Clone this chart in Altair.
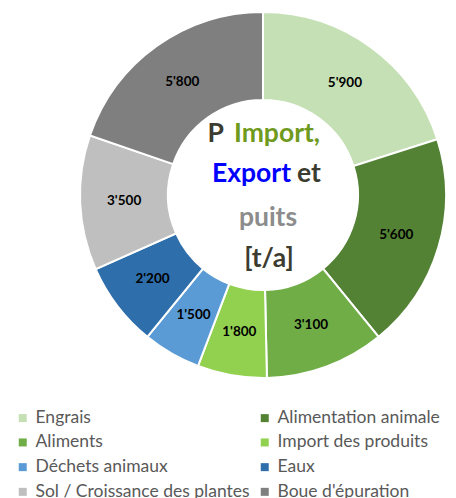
import altair as alt
import pandas as pd

categories = ["Engrais", "Alimentation animale", "Aliments", "Import des produits",
              "Déchets animaux", "Eaux", "Sol / Croissance des plantes", "Boue d'épuration"]
values = [5900, 5600, 3100, 1800, 1500, 2200, 3500, 5800]
colors = ["#C5E0B4", "#548235", "#70AD47", "#92D050", "#5B9BD5", "#2E6EAA", "#BFBFBF", "#7F7F7F"]

df = pd.DataFrame({
    "cat": categories,
    "val": values,
    "idx": list(range(len(categories))),
    "label": [f"{v:,}".replace(",", "'") for v in values],
})

CX, CY = 255, 187

color = alt.Color(
    "cat:N",
    scale=alt.Scale(domain=categories, range=colors),
    sort=categories,
    legend=alt.Legend(
        title=None, orient="none", legendX=6, legendY=401, columns=2, direction="horizontal",
        symbolType="square", symbolSize=64, symbolStrokeWidth=0,
        labelFont="Lato", labelFontSize=17.5, labelColor="#595959",
        labelOffset=4, rowPadding=5.7, columnPadding=6, labelLimit=300,
    ),
)

base = alt.Chart(df).encode(
    theta=alt.Theta("val:Q", stack=True),
    order=alt.Order("idx:Q"),
)

arcs = base.mark_arc(innerRadius=95, outerRadius=183, stroke="white", strokeWidth=2).encode(
    color=color, x=alt.value(CX), y=alt.value(CY)
)

labels = base.mark_text(radius=139, font="Lato", fontSize=13.5, fontWeight="bold", color="black").encode(
    text="label:N", x=alt.value(CX), y=alt.value(CY)
)

# center title words
words = ["P", "Import,", "Export", "et", "puits", "[t/a]"]
word_colors = ["#3C3C30", "#6F9A1D", "#0000FF", "#3C3C30", "#8C8C8C", "#3C3C30"]
word_align = ["right", "left", "right", "left", "center", "center"]
word_x = [216, 226, 283, 289, 260, 261]
word_y = [134, 134, 174, 174, 218, 259]

title_layers = []
for w, c, a, x, y in zip(words, word_colors, word_align, word_x, word_y):
    title_layers.append(
        alt.Chart(pd.DataFrame({"t": [w]})).mark_text(
            font="Lato", fontSize=26.5, fontWeight="bold", color=c, align=a, baseline="alphabetic"
        ).encode(text="t:N", x=alt.value(x), y=alt.value(y))
    )

chart = alt.layer(arcs, labels, *title_layers).properties(
    width=440, height=490, autosize=alt.AutoSizeParams(type="none"), padding=0
).configure_view(stroke=None)

chart.save("out.html", embed_options={"renderer": "svg", "actions": False})
